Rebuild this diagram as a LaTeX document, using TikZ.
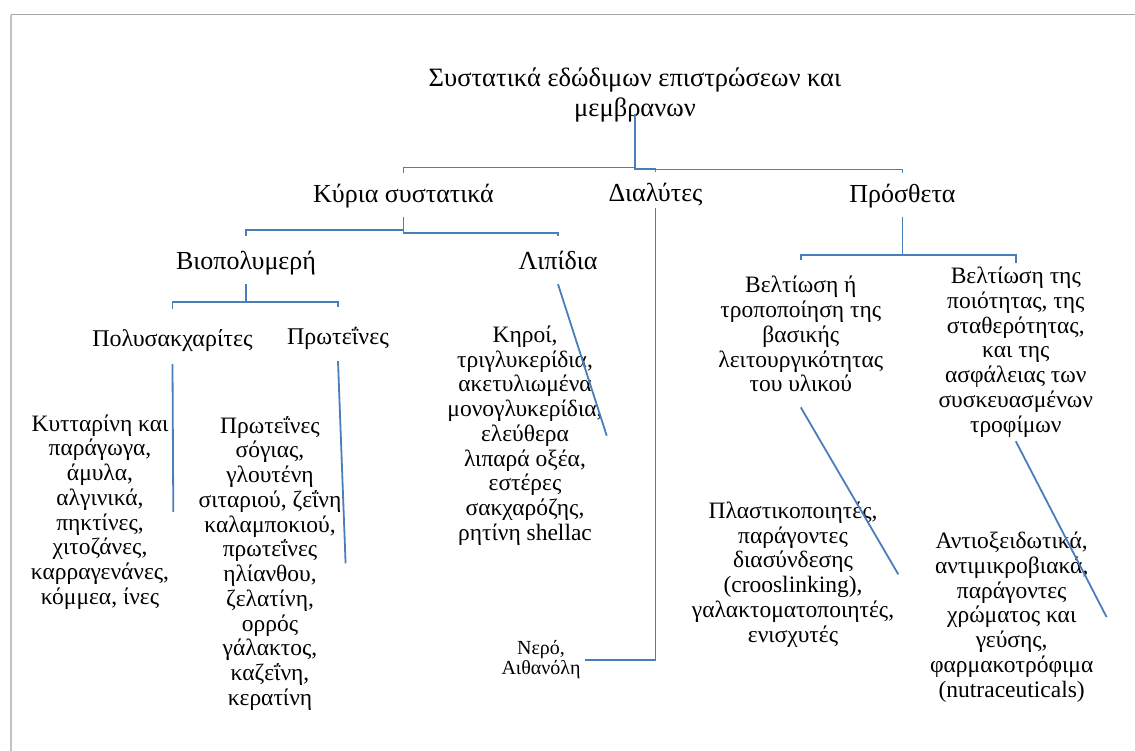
\documentclass[tikz,border=0pt]{standalone}
\usepackage{fontspec}
\setmainfont{Liberation Serif}
\definecolor{wireblue}{HTML}{4A7EBB}
\definecolor{framegray}{HTML}{A6A6A6}
\tikzset{
    wire/.style={draw=wireblue, line width=1.8pt},
    toplabel/.style={font=\fontsize{26.5}{30}\selectfont, align=center, inner sep=0pt},
    levelone/.style={font=\fontsize{26}{30}\selectfont, anchor=base, inner xsep=2pt, inner ysep=10pt, text height=20pt, text depth=4pt},
    leveltwo/.style={font=\fontsize{26}{30}\selectfont, anchor=base, inner xsep=2pt, inner ysep=12pt, text height=22pt, text depth=2pt},
    levelthree/.style={font=\fontsize{24}{28}\selectfont, anchor=base, inner xsep=2pt, inner ysep=13pt, text height=24pt, text depth=4pt},
    leaf/.style={font=\fontsize{23.5}{24.75}\selectfont, align=center, inner sep=4pt},
    smallleaf/.style={font=\fontsize{20}{20}\selectfont, align=center, inner sep=4pt}
}
\begin{document}
\begin{tikzpicture}[x=1pt, y=-1pt]
                \useasboundingbox (0, 0) rectangle (1135, 751);
                % Frame:
                \draw[framegray!70, line width=2pt] (10.7, 751) -- (10.7, 15);
                \draw[framegray, line width=1pt] (10.7, 15) -- (1135, 15);
                % Nodes:
                \node[toplabel] (title) at (635, 95.2) {Συστατικά εδώδιμων επιστρώσεων και\\μεμβρανων};
                \node[levelone] (kyria) at (403.5, 203) {Κύρια συστατικά};
                \node[levelone] (dialytes) at (655.5, 202) {Διαλύτες};
                \node[levelone] (prostheta) at (902.5, 203) {Πρόσθετα};
                \node[leveltwo] (biopol) at (246, 270) {Βιοπολυμερή};
                \node[leveltwo] (lipidia) at (558, 270) {Λιπίδια};
                \node[levelthree] (polysak) at (172.5, 346.7) {Πολυσακχαρίτες};
                \node[levelthree] (proteines) at (338, 344) {Πρωτεΐνες};
                \node[leaf] (kyttarini) at (100, 511.9) {Κυτταρίνη και\\παράγωγα,\\άμυλα,\\αλγινικά,\\πηκτίνες,\\χιτοζάνες,\\καρραγενάνες,\\κόμμεα, ίνες};
                \node[leaf] (soja) at (270, 563.3) {Πρωτεΐνες\\σόγιας,\\γλουτένη\\σιταριού, ζεΐνη\\καλαμποκιού,\\πρωτεΐνες\\ηλίανθου,\\ζελατίνη,\\ορρός\\γάλακτος,\\καζεΐνη,\\κερατίνη};
                \node[leaf] (keroi) at (525, 435.7) {Κηροί,\\τριγλυκερίδια,\\ακετυλιωμένα\\μονογλυκερίδια,\\ελεύθερα\\λιπαρά οξέα,\\εστέρες\\σακχαρόζης,\\ρητίνη shellac};
                \node[smallleaf] (nero) at (541, 660) {Νερό,\\Αιθανόλη};
                \node[leaf] (beltiosi) at (800.8, 334.3) {Βελτίωση ή\\τροποποίηση της\\βασικής\\λειτουργικότητας\\του υλικού};
                \node[leaf] (poiotita) at (1015.8, 352) {Βελτίωση της\\ποιότητας, της\\σταθερότητας,\\και της\\ασφάλειας των\\συσκευασμένων\\τροφίμων};
                \node[leaf] (plastik) at (793, 574.4) {Πλαστικοποιητές,\\παράγοντες\\διασύνδεσης\\(crooslinking),\\γαλακτοματοποιητές,\\ενισχυτές};
                \node[leaf] (antiox) at (1011.7, 617) {Αντιοξειδωτικά,\\αντιμικροβιακά,\\παράγοντες\\χρώματος και\\γεύσης,\\φαρμακοτρόφιμα\\(nutraceuticals)};
                % Wires:
                \draw[wire] ([yshift=9pt]title.south) -- ++(0, 54) -| (kyria.north);
                \draw[wire] ([yshift=9pt]title.south) -- ++(0, 55) -| (dialytes.north);
                \draw[wire] ([yshift=9pt]title.south) -- ++(0, 56) -| (prostheta.north);
                \draw[wire] (kyria.south) -- ++(0, 13) -| (biopol.north);
                \draw[wire] (kyria.south) -- ++(0, 15.7) -| (lipidia.north);
                \draw[wire] (biopol.south) -- ++(0, 18) -| (polysak.north);
                \draw[wire] (biopol.south) -- ++(0, 18) -| (proteines.north);
                \draw[wire] (prostheta.south) -- ++(0, 38) -| ([yshift=12pt]beltiosi.north);
                \draw[wire] (prostheta.south) -- ++(0, 38) -| (poiotita.north);
                \draw[wire] (polysak.south) -- (kyttarini.east);
                \draw[wire] (proteines.south) -- (soja.east);
                \draw[wire] (lipidia.south) -- (keroi.east);
                \draw[wire] ([yshift=8pt]dialytes.south) |- (nero.east);
                \draw[wire] ([yshift=-11pt]beltiosi.south) -- (plastik.east);
                \draw[wire] (poiotita.south) -- ([xshift=9pt]antiox.east);
            \end{tikzpicture}
\end{document}
